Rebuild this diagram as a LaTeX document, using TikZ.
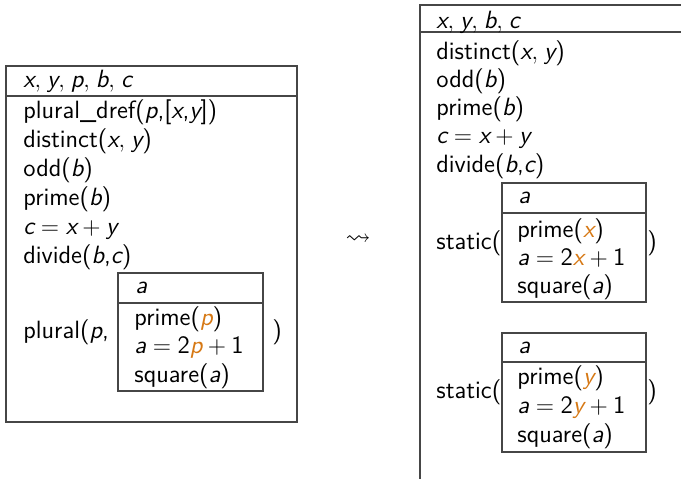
\documentclass[tikz,border=0pt]{standalone}
\usepackage{amssymb}
\definecolor{hl}{RGB}{214,120,20}
\definecolor{frm}{RGB}{70,70,70}
\newcommand\vv[1]{\mbox{\itshape #1}}
\newcommand\nn[1]{\mbox{#1}}
\newcommand\hv[1]{\mbox{\color{hl}\itshape #1}}
\newcommand\cm{,\mskip 1.5mu}
\begin{document}
\begin{tikzpicture}[x=0.5pt,y=-0.5pt,
  txt/.style={anchor=base west, inner sep=0pt, font=\fontsize{12.5}{14}\selectfont\sffamily},
  box/.style={draw=frm, line width=0.6pt}]
\useasboundingbox (0,0) rectangle (681,479);
% left DRS
\draw[box] (6,66) rectangle (297,422);
\draw[box] (6,96) -- (297,96);
\node[txt] (lh) at (23,87) {$\vv{x}\cm\vv{y}\cm\vv{p}\cm\vv{b}\cm\vv{c}$};
\node[txt] (l1) at (23,118) {plural\_dref(\vv{p},[\vv{x},\vv{y}])};
\node[txt] (l2) at (23,147) {distinct($\vv{x}\cm\vv{y}$)};
\node[txt] (l3) at (23,176) {odd(\vv{b})};
\node[txt] (l4) at (23,205) {prime(\vv{b})};
\node[txt] (l5) at (23,234) {$\vv{c} = \vv{x} + \vv{y}$};
\node[txt] (l6) at (23,263) {divide(\vv{b},\vv{c})};
\node[txt] (lp) at (23,338) {plural(\vv{p},};
\draw[box] (118,273) rectangle (263,391);
\draw[box] (118,303) -- (263,303);
\node[txt] (la) at (135,293) {\vv{a}};
\node[txt] (lb1) at (134,325) {prime(\hv{p})};
\node[txt] (lb2) at (134,353) {$\vv{a} = \nn{2}\hv{p} + \nn{1}$};
\node[txt] (lb3) at (134,382) {square(\vv{a})};
\node[txt] (lpc) at (272,338) {)};
% arrow
\node[txt, anchor=center] (arr) at (358,240) {$\leadsto$};
% right DRS
\draw[box] (681,5) -- (420,5) -- (420,479);
\draw[box] (420,32) -- (681,32);
\node[txt] (rh) at (436,28) {$\vv{x}\cm\vv{y}\cm\vv{b}\cm\vv{c}$};
\node[txt] (r1) at (436,59) {distinct($\vv{x}\cm\vv{y}$)};
\node[txt] (r2) at (436,87) {odd(\vv{b})};
\node[txt] (r3) at (436,115) {prime(\vv{b})};
\node[txt] (r4) at (436,143) {$\vv{c} = \vv{x} + \vv{y}$};
\node[txt] (r5) at (436,172) {divide(\vv{b},\vv{c})};
% static 1
\node[txt] (s1) at (436,249) {static(};
\draw[box] (502,183) rectangle (646,302);
\draw[box] (502,213) -- (646,213);
\node[txt] (s1a) at (518,203) {\vv{a}};
\node[txt] (s1b) at (517,237) {prime(\hv{x})};
\node[txt] (s1c) at (517,265) {$\vv{a} = \nn{2}\hv{x} + \nn{1}$};
\node[txt] (s1d) at (517,293) {square(\vv{a})};
\node[txt] (s1e) at (647,249) {)};
% static 2
\node[txt] (s2) at (436,398) {static(};
\draw[box] (502,333) rectangle (646,452);
\draw[box] (502,362) -- (646,362);
\node[txt] (s2a) at (518,353) {\vv{a}};
\node[txt] (s2b) at (517,384) {prime(\hv{y})};
\node[txt] (s2c) at (517,413) {$\vv{a} = \nn{2}\hv{y} + \nn{1}$};
\node[txt] (s2d) at (517,442) {square(\vv{a})};
\node[txt] (s2e) at (647,398) {)};
\end{tikzpicture}
\end{document}
